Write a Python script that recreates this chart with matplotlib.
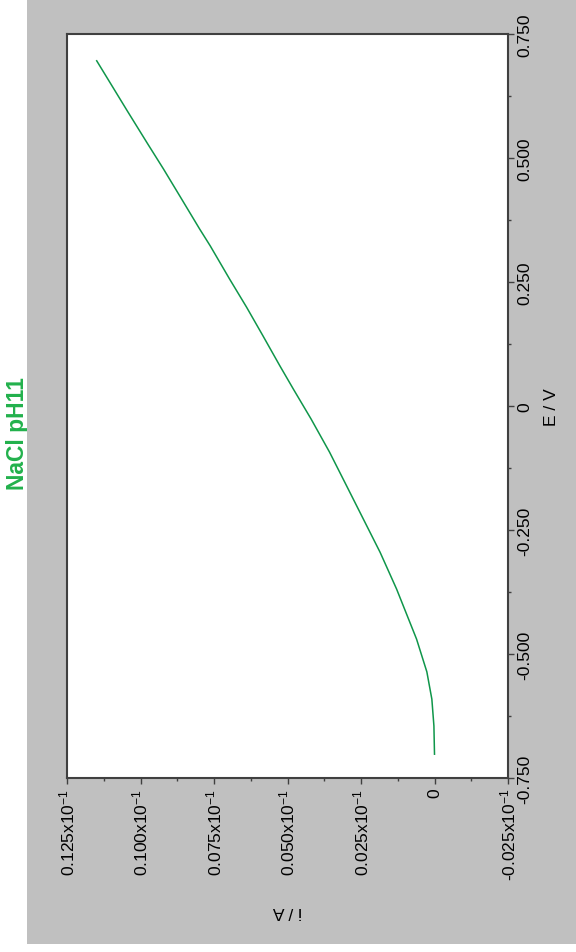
import matplotlib
matplotlib.use("Agg")
import matplotlib.pyplot as plt
from matplotlib.patches import Rectangle
from matplotlib.ticker import MultipleLocator

# データ (電位 E / V と 電流 i / x10^-1 A)
E_V = [-0.702, -0.645, -0.591, -0.536, -0.470, -0.369, -0.295, -0.228,
       -0.161, -0.093, -0.026, 0.034, 0.081, 0.142, 0.199, 0.256,
       0.323, 0.357, 0.424, 0.478, 0.528, 0.595, 0.663, 0.696]
i_A = [0.0000, 0.0002, 0.0009, 0.0026, 0.0061, 0.0129, 0.0185, 0.0242,
       0.0299, 0.0357, 0.0420, 0.0480, 0.0526, 0.0584, 0.0639, 0.0697,
       0.0763, 0.0799, 0.0867, 0.0922, 0.0975, 0.1045, 0.1115, 0.1149]

i_ticks = [0.125, 0.100, 0.075, 0.050, 0.025, 0, -0.025]
i_labels = ["0.125x10$^{-1}$", "0.100x10$^{-1}$", "0.075x10$^{-1}$",
            "0.050x10$^{-1}$", "0.025x10$^{-1}$", "0", "-0.025x10$^{-1}$"]
E_ticks = [0.75, 0.5, 0.25, 0, -0.25, -0.5, -0.75]
E_labels = ["0.750", "0.500", "0.250", "0", "-0.250", "-0.500", "-0.750"]

title = "NaCl pH11"

plt.rcParams['font.family'] = ['Liberation Sans', 'DejaVu Sans']
plt.rcParams['mathtext.default'] = 'regular'

W, H = 576, 953
fig = plt.figure(figsize=(W / 100, H / 100), dpi=100)
fig.patch.set_facecolor("white")

# 灰色の背景
bg = Rectangle((27 / W, (H - 945) / H), 1 - 27 / W, 945 / H,
               transform=fig.transFigure, facecolor="#c0c0c0",
               edgecolor="none", zorder=1)
fig.patches.append(bg)

# タイトル (灰色の背景の下に一部隠れる)
fig.text(29 / W, 1 - 434 / H, title, rotation=90, color="#22b14c",
         fontsize=16.5, fontweight="bold", ha="right", va="center",
         zorder=0)

ax = fig.add_axes([67 / W, (H - 779) / H, (508 - 67) / W, (779 - 35) / H])
ax.set_zorder(2)
ax.set_facecolor("white")

ax.plot(i_A, E_V, color="#0f964a", linewidth=1.1)

ax.set_xlim(0.125, -0.025)
ax.set_ylim(-0.75, 0.75)

ax.set_xticks(i_ticks)
ax.set_xticklabels(i_labels, rotation=90, ha="center", va="top")
ax.xaxis.set_minor_locator(MultipleLocator(0.0125))

ax.yaxis.tick_right()
ax.set_yticks(E_ticks)
ax.set_yticklabels(E_labels, rotation=90, ha="left", va="center")
ax.yaxis.set_minor_locator(MultipleLocator(0.125))

ax.tick_params(axis="both", which="major", direction="out", length=4,
               width=1.0, color="#404040", labelsize=12.5, pad=3)
ax.tick_params(axis="both", which="minor", direction="out", length=2.5,
               width=1.0, color="#404040")
ax.tick_params(axis="y", which="both", left=False, right=True)

for s in ax.spines.values():
    s.set_color("#404040")
    s.set_linewidth(1.5)

# 軸ラベル
fig.text(551 / W, 1 - 407 / H, "E / V", rotation=90, fontsize=12.5,
         ha="center", va="center", zorder=3)
fig.text(287 / W, 1 - 912 / H, "i / A", rotation=180, fontsize=12.5,
         ha="center", va="center", zorder=3)

fig.savefig("out.png", dpi=100, facecolor=fig.get_facecolor())
